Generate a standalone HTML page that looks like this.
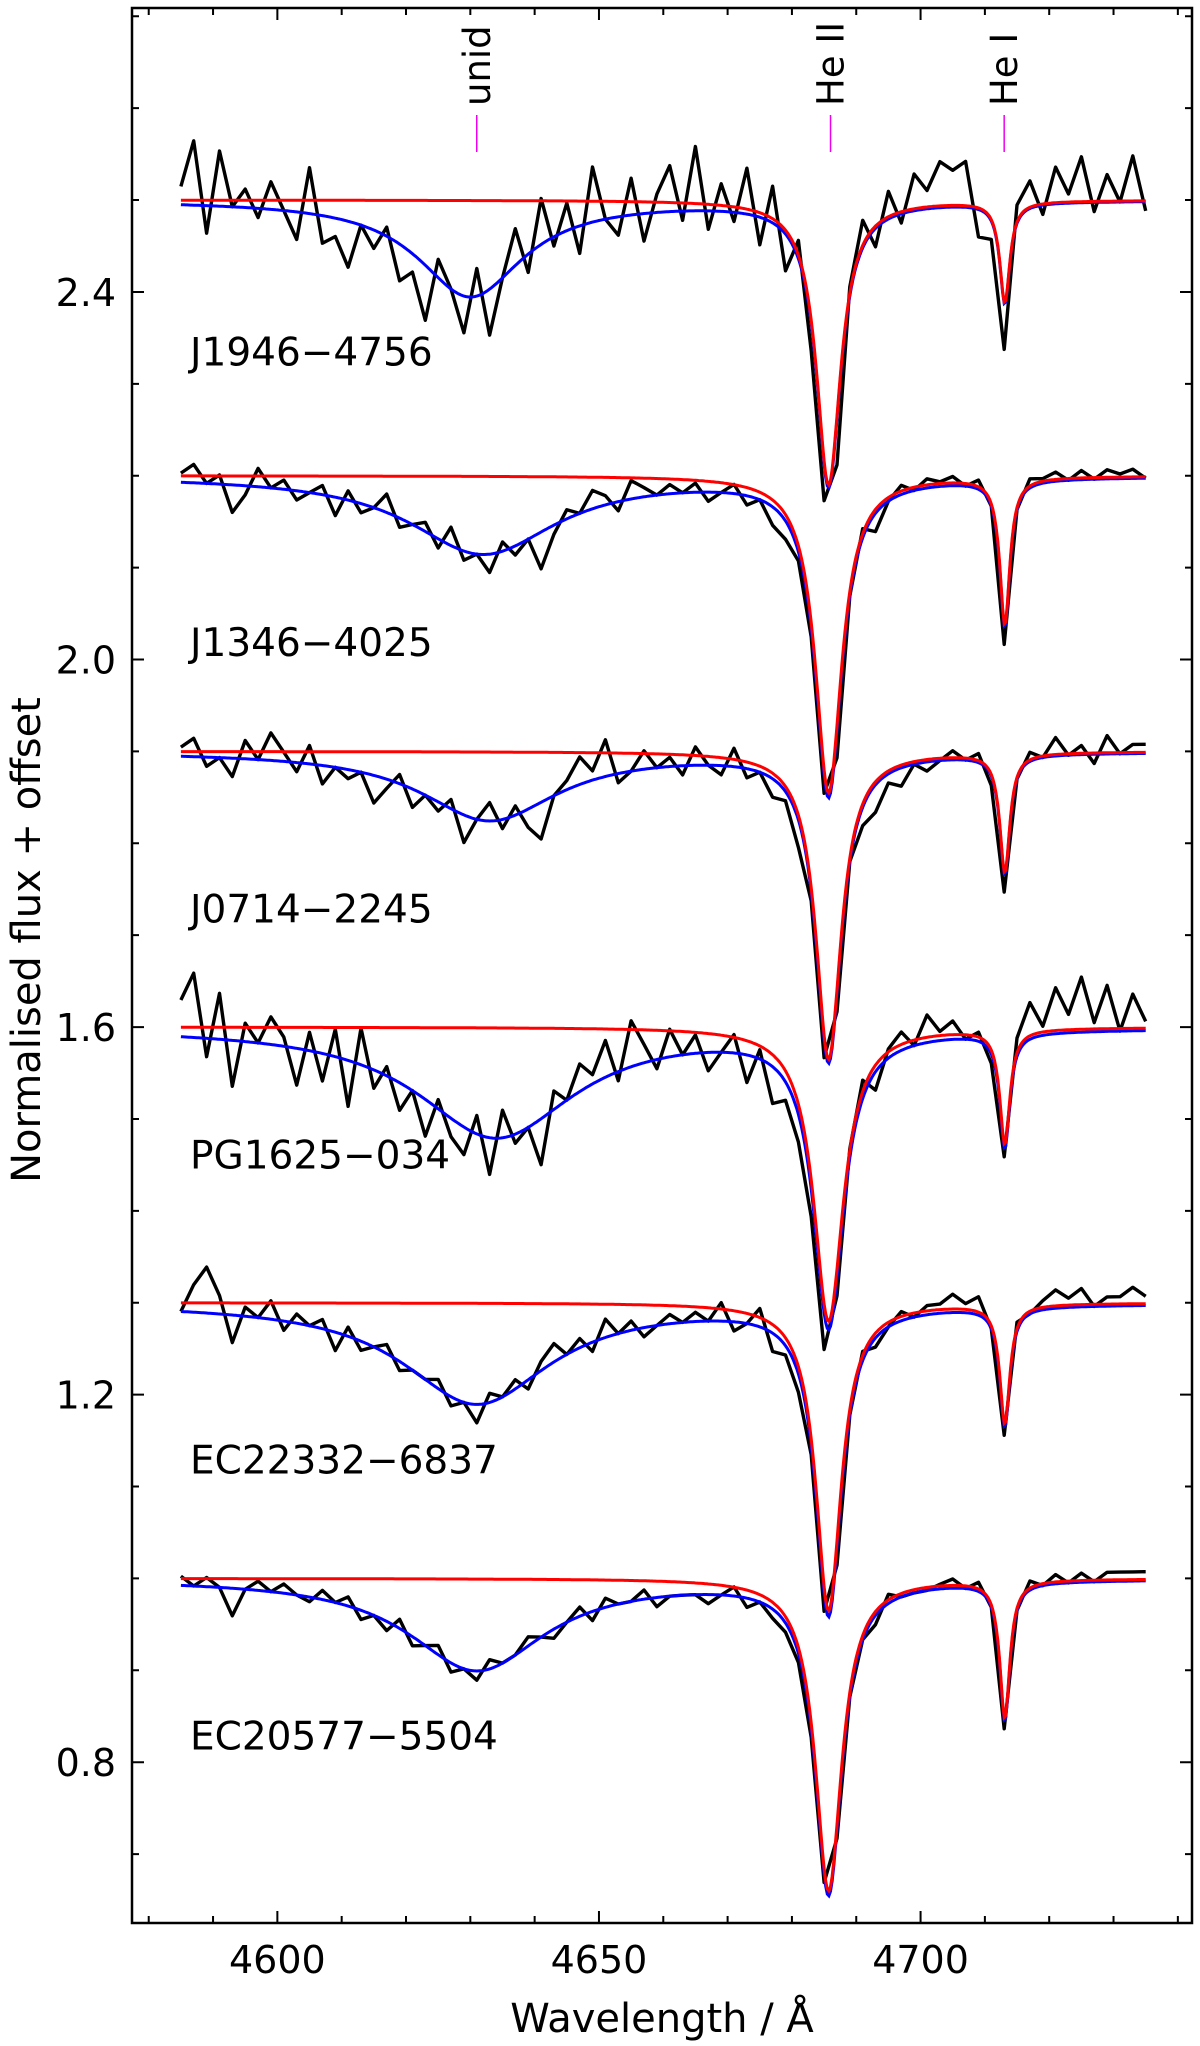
<!DOCTYPE html>
<html><head><meta charset="utf-8"><style>
html,body{margin:0;padding:0;background:#fff;}
svg{display:block;font-family:"DejaVu Sans","Liberation Sans",sans-serif;}
</style></head><body>
<svg id="chart" width="1200" height="2046" viewBox="0 0 1200 2046" xmlns="http://www.w3.org/2000/svg">
<g id="plot"></g>
</svg>
<script>
const starNames=["J1946\u22124756","J1346\u22124025","J0714\u22122245","PG1625\u2212034","EC22332\u22126837","EC20577\u22125504"];
const continuum=[2.5,2.2,1.9,1.6,1.3,1.0];
const unidDepth=[0.105,0.085,0.075,0.12,0.11,0.10];
const unidCenter=[4630,4632,4633,4634,4631,4631];
const unidWidth=[10,14,13,15,14,13];
const heIIDepth=[0.31,0.345,0.335,0.32,0.335,0.34];
const heIIWidth=[2.3,2.5,2.4,2.8,2.4,2.5];
const heIDepth=[0.11,0.16,0.13,0.125,0.13,0.15];
const labelY=[2.32,2.004,1.714,1.446,1.114,0.814];
const lineIds=["unid","He II","He I"];
const lineWaves=[4631,4686,4713];
const xTicks=[4600,4650,4700];
const yTicks=[0.8,1.2,1.6,2.0,2.4];
const resid=[
[0.02,0.07,-0.03,0.06,0.0,0.02,-0.01,0.03,0.0,-0.03,0.05,-0.03,-0.02,-0.05,0.0,-0.02,0.01,-0.04,-0.02,-0.06,0.02,0.0,-0.04,0.03,-0.05,0.0,0.04,-0.02,0.05,-0.01,0.03,-0.03,0.06,0.0,-0.02,0.04,-0.03,0.02,0.05,-0.01,0.07,-0.02,0.03,-0.01,0.05,-0.03,0.04,-0.04,0.02,-0.03,-0.04,-0.05,0.01,0.03,-0.02,0.03,-0.01,0.04,0.02,0.05,0.04,0.05,-0.03,-0.02,-0.05,0.02,0.03,-0.01,0.04,0.01,0.05,-0.01,0.03,0.0,0.05,-0.01],
[0.01,0.02,0.0,0.01,-0.03,-0.01,0.02,0.0,0.01,-0.01,0.0,0.01,-0.02,0.01,-0.01,0.0,0.02,-0.01,0.0,0.01,-0.01,0.02,-0.01,0.0,-0.02,0.01,-0.01,0.0,-0.04,-0.01,0.01,0.0,0.02,0.01,-0.01,0.02,0.01,0.0,0.01,0.0,0.01,-0.01,0.0,0.01,-0.01,0.0,-0.02,-0.02,-0.01,-0.01,-0.02,-0.03,0.0,0.01,-0.02,0.0,0.01,0.0,0.01,0.005,0.01,0.0,0.01,0.0,-0.02,0.0,0.01,0.005,0.01,0.0,0.01,0.0,0.01,0.005,0.01,0.0],
[0.01,0.02,-0.01,0.0,-0.02,0.02,0.0,0.03,0.01,-0.01,0.02,-0.02,0.0,-0.01,0.0,-0.03,-0.01,0.01,-0.02,0.0,-0.01,0.01,-0.03,0.0,0.02,-0.01,0.01,-0.02,-0.04,0.0,0.01,0.03,0.01,0.04,-0.01,0.0,0.02,0.0,0.01,-0.01,0.02,0.0,-0.01,0.02,-0.01,0.0,-0.02,-0.01,-0.03,-0.01,-0.02,-0.02,0.0,-0.02,-0.03,-0.01,-0.02,0.0,-0.01,0.0,0.01,0.0,0.01,-0.01,-0.02,0.0,0.01,0.0,0.02,0.0,0.01,-0.01,0.02,0.0,0.01,0.01],
[0.04,0.07,-0.02,0.05,-0.05,0.02,0.0,0.03,0.01,-0.04,0.02,-0.03,0.03,-0.05,0.04,-0.02,0.01,-0.03,0.0,-0.04,0.01,-0.02,-0.03,0.02,-0.04,0.03,-0.01,0.0,-0.05,0.02,0.0,0.03,0.01,0.04,-0.01,0.05,0.02,-0.01,0.03,0.0,0.02,-0.02,0.0,0.02,-0.03,0.01,-0.04,-0.02,-0.03,-0.03,-0.04,-0.02,0.01,0.02,-0.02,0.01,0.02,0.0,0.03,0.01,0.02,0.0,0.01,-0.01,-0.01,0.02,0.04,0.01,0.05,0.02,0.06,0.01,0.05,0.0,0.04,0.01],
[0.0,0.03,0.05,0.02,-0.03,0.01,0.0,0.02,-0.01,0.01,0.0,0.01,-0.02,0.01,-0.01,0.0,0.01,-0.01,0.0,0.0,0.01,-0.01,0.0,-0.02,0.01,0.0,0.01,-0.01,0.01,0.02,0.0,0.01,-0.01,0.02,0.0,0.01,-0.01,0.0,0.01,0.0,0.01,0.0,0.02,-0.01,0.0,0.02,-0.02,-0.01,-0.02,-0.01,-0.02,-0.02,0.0,0.01,-0.01,0.0,0.01,0.0,0.01,0.01,0.02,0.01,0.02,0.0,-0.01,0.01,0.0,0.01,0.02,0.01,0.02,0.0,0.01,0.01,0.02,0.01],
[0.01,0.0,0.01,0.0,-0.03,0.0,0.01,0.0,0.01,0.0,-0.005,0.01,0.0,0.01,-0.01,0.0,-0.01,0.01,-0.01,0.0,0.01,-0.01,0.0,-0.01,0.01,0.0,0.0,0.01,0.0,-0.01,0.0,0.01,-0.01,0.01,0.0,0.0,0.01,-0.01,0.0,0.0,0.0,-0.01,0.0,0.01,-0.01,0.0,-0.01,-0.01,-0.01,-0.01,-0.01,-0.01,0.0,0.0,-0.01,0.01,0.0,0.0,0.0,0.005,0.01,0.0,0.01,0.0,-0.01,0.0,0.01,0.0,0.01,0.0,0.01,0.0,0.01,0.01,0.01,0.01]
];

const L=132,R=1192,T=8,B=1923;
const X0=4577.4,X1=4742.2,Y0=0.625,Y1=2.709;
const sx=v=>L+(v-X0)/(X1-X0)*(R-L);
const sy=v=>B-(v-Y0)/(Y1-Y0)*(B-T);
const NS="http://www.w3.org/2000/svg";
const g=document.getElementById('plot');
function mk(tag,attrs){const e=document.createElementNS(NS,tag);for(const k in attrs)e.setAttribute(k,attrs[k]);g.appendChild(e);return e;}
function lor(x,c,w){const d=(x-c)/w;return 1/(1+d*d);}
function redModel(i,x){return continuum[i]-heIIDepth[i]*lor(x,4685.7,heIIWidth[i])-heIDepth[i]*lor(x,4713.1,0.95);}
function blueModel(i,x){return redModel(i,x)-unidDepth[i]*lor(x,unidCenter[i],unidWidth[i]);}

for(let i=0;i<6;i++){
  let pb="",pr="",pk="";
  for(let x=4585;x<=4735.001;x+=0.25){pb+=(pb?"L":"M")+sx(x).toFixed(1)+","+sy(blueModel(i,x)).toFixed(1);}
  for(let x=4585;x<=4735.001;x+=0.25){pr+=(pr?"L":"M")+sx(x).toFixed(1)+","+sy(redModel(i,x)).toFixed(1);}
  for(let k=0;k<resid[i].length;k++){const x=4585+2*k;pk+=(pk?"L":"M")+sx(x).toFixed(1)+","+sy(blueModel(i,x)+resid[i][k]).toFixed(1);}
  const o=mk('path',{d:pk,fill:'none',stroke:'#000','stroke-width':3.4,'stroke-linejoin':'round'});
  
  
  const b=mk('path',{d:pb,fill:'none',stroke:'#0000ff','stroke-width':3});
  
  
  const r=mk('path',{d:pr,fill:'none',stroke:'#ff0000','stroke-width':3});
  
  
  const t=mk('text',{x:190,y:sy(labelY[i]),'font-size':39,fill:'#000'});
  t.textContent=starNames[i];
  
  
}
for(let j=0;j<3;j++){
  const x=sx(lineWaves[j]);
  const m=mk('line',{x1:x,x2:x,y1:115,y2:152,stroke:'#ee00ee','stroke-width':1.5});
  
  
  const t=mk('text',{x:x+13,y:106,'font-size':37,fill:'#000',transform:`rotate(-90 ${x+13} 106)`});
  t.textContent=lineIds[j];
  
  
}
const fr=mk('rect',{x:L,y:T,width:R-L,height:B-T,fill:'none',stroke:'#000','stroke-width':2.5});


let tk="";
for(let v=4580;v<=4740;v+=10){const x=sx(v),len=(v%50===0)?12:7;tk+=`M${x},${B}v${-len}M${x},${T}v${len}`;}
for(let k=7;k<=27;k++){const v=k/10,y=sy(v),len=(k%4===0)?12:7;tk+=`M${L},${y}h${len}M${R},${y}h${-len}`;}
const tp=mk('path',{d:tk,stroke:'#000','stroke-width':2,fill:'none'});


for(const v of xTicks){const t=mk('text',{x:sx(v),y:B+50,'font-size':38,'text-anchor':'middle'});t.textContent=String(v);
  
  }
for(const v of yTicks){const t=mk('text',{x:116,y:sy(v)+14,'font-size':38,'text-anchor':'end'});t.textContent=v.toFixed(1);
  
  }
const xl=mk('text',{x:662,y:2032,'font-size':40,'text-anchor':'middle'});xl.textContent="Wavelength / Å";


const yl=mk('text',{x:40,y:940,'font-size':40,'text-anchor':'middle',transform:'rotate(-90 40 940)'});yl.textContent="Normalised flux + offset";


</script>
</body></html>
